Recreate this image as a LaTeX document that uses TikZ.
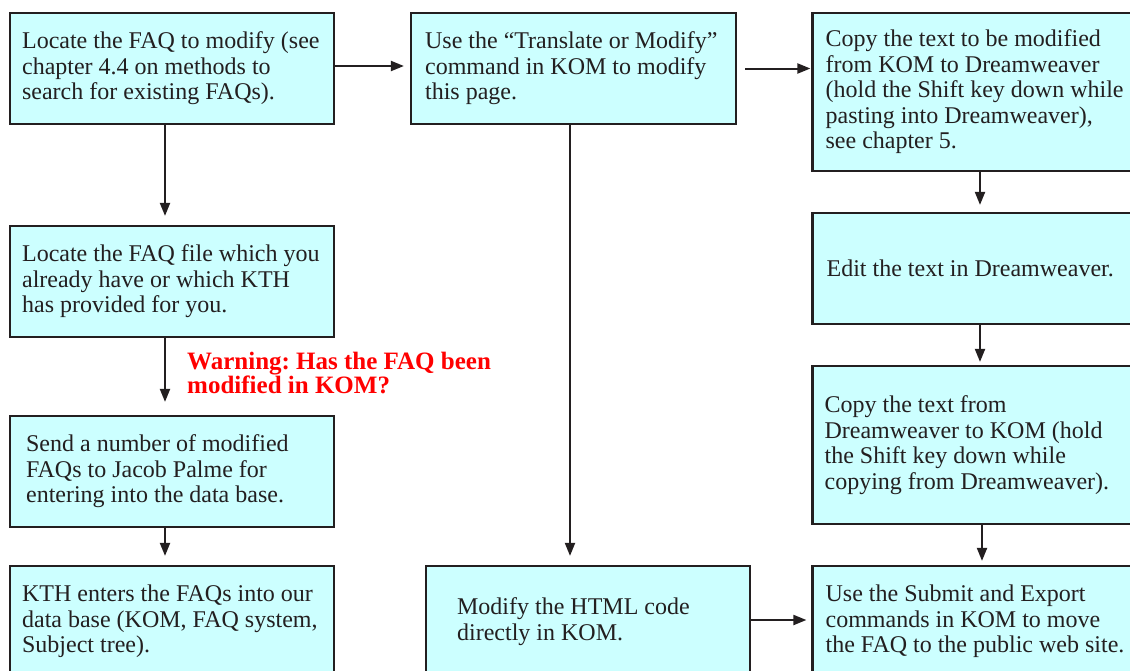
\documentclass[tikz,border=0pt]{standalone}
\usepackage{fontspec}
\setmainfont{Liberation Serif}
\usetikzlibrary{arrows.meta}
\definecolor{boxfill}{RGB}{204,255,255}
\definecolor{ink}{RGB}{35,31,32}
\definecolor{warn}{RGB}{255,0,0}
\frenchspacing
\begin{document}
\begin{tikzpicture}[x=1pt,y=-1pt,
  box/.style={draw=ink, line width=2.2pt, fill=boxfill, minimum width=324pt, minimum height=111pt, inner sep=0pt},
  tall/.style={minimum height=158pt},
  txt/.style={anchor=west, align=left, inner sep=0pt, font=\fontsize{24}{25.5}\selectfont, text=ink},
  arr/.style={draw=ink, line width=2pt, -{Triangle[length=13pt,width=10pt]}},
]
\useasboundingbox (0,0) rectangle (1130,670);
\node[box] (b1) at (172,68.5) {};
\node[box] (b2) at (172,281.5) {};
\node[box] (b3) at (172,471.5) {};
\node[box] (b4) at (172,621.5) {};
\node[box, minimum width=325pt] (c1) at (573.5,68.5) {};
\node[box] (c2) at (588,621.5) {};
\node[box,tall] (d1) at (974.5,92) {};
\node[box] (d2) at (974.5,268.5) {};
\node[box,tall] (d3) at (974.5,445) {};
\node[box] (d4) at (974.5,621.5) {};

\node[txt] (t1) at ([xshift=13pt]b1.west) {Locate the FAQ to modify (see\\chapter 4.4 on methods to\\search for existing FAQs).};
\node[txt] (t2) at ([xshift=13pt]b2.west) {Locate the FAQ file which you\\already have or which KTH\\has provided for you.};
\node[txt] (t3) at ([xshift=17pt]b3.west) {Send a number of modified\\FAQs to Jacob Palme for\\entering into the data base.};
\node[txt] (t4) at ([xshift=13pt]b4.west) {KTH enters the FAQs into our\\data base (KOM, FAQ system,\\Subject tree).};
\node[txt] (tc1) at ([xshift=15pt]c1.west) {Use the “Translate or Modify”\\command in KOM to modify\\this page.};
\node[txt] (tc2) at ([xshift=32pt]c2.west) {Modify the HTML code\\directly in KOM.};
\node[txt] (td1) at ([xshift=14pt]d1.west) {Copy the text to be modified\\from KOM to Dreamweaver\\(hold the Shift key down while\\pasting into Dreamweaver),\\see chapter 5.};
\node[txt] (td2) at ([xshift=15pt]d2.west) {Edit the text in Dreamweaver.};
\node[txt] (td3) at ([xshift=13pt]d3.west) {Copy the text from\\Dreamweaver to KOM (hold\\the Shift key down while\\copying from Dreamweaver).};
\node[txt] (td4) at ([xshift=14pt]d4.west) {Use the Submit and Export\\commands in KOM to move\\the FAQ to the public web site.};

\node[txt, font=\fontsize{25}{24}\selectfont\bfseries, text=warn] (w) at (187,373) {Warning: Has the FAQ been\\modified in KOM?};

\draw[arr, shorten >=9pt] ([xshift=-7pt]b1.south) -- ([xshift=-7pt]b2.north);
\draw[arr, shorten >=13pt] ([xshift=-7pt]b2.south) -- ([xshift=-7pt]b3.north);
\draw[arr, shorten >=9pt] ([xshift=-7pt]b3.south) -- ([xshift=-7pt]b4.north);
\draw[arr, shorten >=6pt] ([yshift=2.5pt]b1.east) -- ([yshift=2.5pt]b1.east -| c1.west);
\draw[arr, shorten <=8pt, shorten >=1pt] (c1.east) -- (c1.east -| d1.west);
\draw[arr, shorten >=9pt] ([xshift=-3.5pt]c1.south) -- ([xshift=-3.5pt]c1.south |- c2.north);
\draw[arr, shorten >=5pt] ([yshift=1.5pt]c2.east) -- ([yshift=1.5pt]c2.east -| d4.west);
\draw[arr, shorten >=7pt] ([xshift=5.5pt]d1.south) -- ([xshift=5.5pt]d2.north);
\draw[arr, shorten >=3pt] ([xshift=5.5pt]d2.south) -- ([xshift=5.5pt]d3.north);
\draw[arr, shorten >=4pt] ([xshift=7.5pt]d3.south) -- ([xshift=7.5pt]d4.north);
\end{tikzpicture}
\end{document}
